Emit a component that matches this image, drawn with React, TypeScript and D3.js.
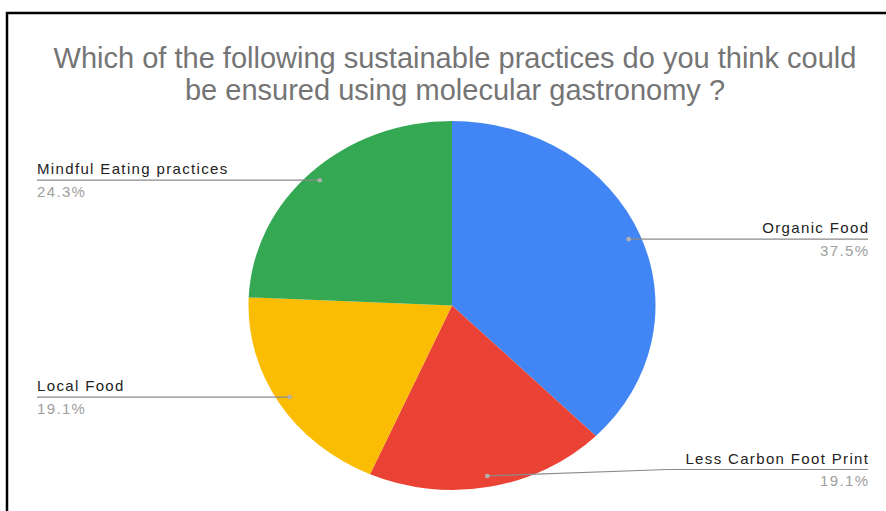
import React from "react";
import * as d3 from "d3";

const WIDTH = 886;
const HEIGHT = 511;

const titleLines = [
  "Which of the following sustainable practices do you think could",
  "be ensured using molecular gastronomy ?",
];

const categories = [
  "Organic Food",
  "Less Carbon Foot Print",
  "Local Food",
  "Mindful Eating practices",
];
const values = [37.5, 19.1, 19.1, 24.3];
const colors = ["#4285F4", "#EA4335", "#FBBC04", "#34A853"];
const percentLabels = ["37.5%", "19.1%", "19.1%", "24.3%"];

// pie geometry
const cx = 452;
const cy = 305.5;
const rx = 203.5;
const ry = 184.5;
const labelLeftX = 37;
const labelRightX = 868;
const labelBottomLimit = 469.5;
const elbowX = 668;
const letterSpacing = 1.35;

export default function App() {
  const pie = d3
    .pie<number>()
    .sort(null)
    .value((d) => d);
  const arcs = pie(values);
  const arc = d3.arc<d3.PieArcDatum<number>>().innerRadius(0).outerRadius(ry);
  const dotArc = d3
    .arc<d3.PieArcDatum<number>>()
    .innerRadius(ry * 0.94)
    .outerRadius(ry * 0.94);
  const sx = rx / ry;

  return (
    <svg
      width={WIDTH}
      height={HEIGHT}
      style={{ position: "absolute", left: 0, top: 0, background: "#fff" }}
      fontFamily="Arial, 'Liberation Sans', sans-serif"
    >
      <rect x={0} y={0} width={WIDTH} height={HEIGHT} fill="#fff" />
      {/* frame */}
      <line x1={6} x2={WIDTH} y1={13} y2={13} stroke="#000" strokeWidth={2.5} />
      <line x1={7} x2={7} y1={12} y2={HEIGHT} stroke="#000" strokeWidth={2.5} />

      {/* title */}
      {titleLines.map((t, i) => (
        <text
          key={i}
          x={455}
          y={68 + i * 32}
          textAnchor="middle"
          fontSize={29}
          fill="#757575"
        >
          {t}
        </text>
      ))}

      {/* slices */}
      <g transform={`translate(${cx},${cy}) scale(${sx},1)`}>
        {arcs.map((a, i) => (
          <path key={i} d={arc(a) || ""} fill={colors[i]} />
        ))}
      </g>

      {/* labels */}
      {arcs.map((a, i) => {
        const [px, py] = dotArc.centroid(a);
        const dx = cx + px * sx;
        const dy = cy + py;
        const right = dx > cx;
        const lineY = Math.min(dy, labelBottomLimit);
        const tx = right ? labelRightX : labelLeftX;
        const anchor = right ? "end" : "start";
        const textX = right ? tx + letterSpacing : tx;
        let pathD: string;
        if (right) {
          pathD =
            Math.abs(lineY - dy) > 0.5
              ? `M${dx},${dy}L${elbowX},${lineY}L${tx},${lineY}`
              : `M${dx},${dy}L${tx},${lineY}`;
        } else {
          pathD = `M${tx},${lineY}L${dx},${dy}`;
        }
        return (
          <g key={i}>
            <path d={pathD} fill="none" stroke="#8a8a8a" strokeWidth={1.2} />
            <circle cx={dx} cy={dy} r={2.3} fill="#b0b0b0" />
            <text
              x={textX}
              y={lineY - 6}
              textAnchor={anchor}
              fontSize={15}
              letterSpacing={letterSpacing}
              fill="#222"
            >
              {categories[i]}
            </text>
            <text
              x={textX}
              y={lineY + 16.5}
              textAnchor={anchor}
              fontSize={15}
              letterSpacing={letterSpacing}
              fill="#9e9e9e"
            >
              {percentLabels[i]}
            </text>
          </g>
        );
      })}
    </svg>
  );
}
